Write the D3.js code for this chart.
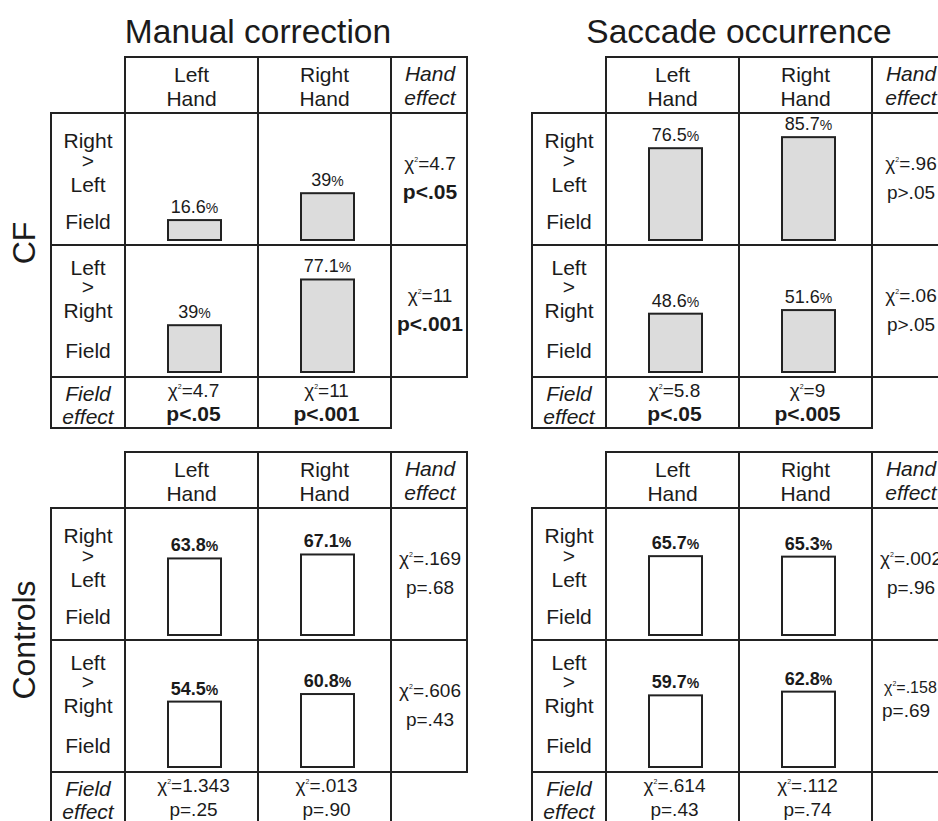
<!DOCTYPE html>
<html>
<head>
<meta charset="utf-8">
<script src="https://cdn.jsdelivr.net/npm/d3@7"></script>
<style>
  body { margin: 0; background: #fff; }
  text { font-family: 'Liberation Sans', Arial, sans-serif; fill: #1b1b1b; }
</style>
</head>
<body>
<div id="chart"></div>
<script>
// --- data ---
const panels = ['Manual correction', 'Saccade occurrence']
const groups = ['CF', 'Controls']
const hands = ['Left Hand', 'Right Hand']
const fieldLabels = [['Right', '>', 'Left', 'Field'], ['Left', '>', 'Right', 'Field']]

// % per [field row][hand]
const manualCF = [[16.6, 39], [39, 77.1]]
const saccadeCF = [[76.5, 85.7], [48.6, 51.6]]
const manualControls = [[63.8, 67.1], [54.5, 60.8]]
const saccadeControls = [[65.7, 65.3], [59.7, 62.8]]

// hand effect per field row: [chi2, p]
const manualCFHand = [['4.7', 'p<.05'], ['11', 'p<.001']]
const saccadeCFHand = [['.96', 'p>.05'], ['.06', 'p>.05']]
const manualControlsHand = [['.169', 'p=.68'], ['.606', 'p=.43']]
const saccadeControlsHand = [['.002', 'p=.96'], ['.158', 'p=.69']]

// field effect per hand: [chi2, p]
const manualCFField = [['4.7', 'p<.05'], ['11', 'p<.001']]
const saccadeCFField = [['5.8', 'p<.05'], ['9', 'p<.005']]
const manualControlsField = [['1.343', 'p=.25'], ['.013', 'p=.90']]
const saccadeControlsField = [['.614', 'p=.43'], ['.112', 'p=.74']]

const tables = [
  { g: 0, p: 0, pct: manualCF, hand: manualCFHand, field: manualCFField },
  { g: 0, p: 1, pct: saccadeCF, hand: saccadeCFHand, field: saccadeCFField },
  { g: 1, p: 0, pct: manualControls, hand: manualControlsHand, field: manualControlsField },
  { g: 1, p: 1, pct: saccadeControls, hand: saccadeControlsHand, field: saccadeControlsField },
]

// --- layout ---
const width = 938, height = 821
const panelX = [51, 532]
const tableTop = [57, 452]
const colEdges = [0, 74, 207, 340, 416]
const rowEdges = [0, 56, 188, 320, 371]
const labelOffsets = [[35, 55, 79, 116], [30, 49, 73, 113]]
const lineColor = '#222'
const fs = 21

const svg = d3.select('#chart')
  .append('svg')
  .attr('width', width)
  .attr('height', height)

const x = d3.scaleBand().domain(hands).range([colEdges[1], colEdges[3]])
const barH = d3.scaleLinear().domain([0, 100]).range([0, 120])
const barW = 53

// titles
svg.selectAll('text.title')
  .data(panels)
  .join('text')
  .attr('class', 'title')
  .attr('x', (d, i) => panelX[i] + colEdges[2])
  .attr('y', 43)
  .attr('text-anchor', 'middle')
  .style('font-size', '33.5px')
  .text(d => d)

// group labels (rotated)
const groupY = [243, 640]
svg.selectAll('text.group')
  .data(groups)
  .join('text')
  .attr('class', 'group')
  .attr('transform', (d, i) => `translate(24, ${groupY[i]}) rotate(-90)`)
  .attr('text-anchor', 'middle')
  .attr('dominant-baseline', 'central')
  .style('font-size', '32px')
  .text(d => d)

function chiText(sel, val, x, y, size, anchor) {
  const t = sel.append('text')
    .attr('x', x).attr('y', y)
    .attr('text-anchor', anchor || 'middle')
    .style('font-size', size + 'px')
  t.append('tspan').text('χ')
  t.append('tspan').attr('dy', -size * 0.42).style('font-size', '7px').text('2')
  t.append('tspan').attr('dy', size * 0.42).text('=' + val)
  return t
}

function pText(sel, val, x, y, size, anchor) {
  const bold = val.startsWith('p<')
  return sel.append('text')
    .attr('x', x).attr('y', y)
    .attr('text-anchor', anchor || 'middle')
    .style('font-size', (bold ? size + 2 : size) + 'px')
    .style('font-weight', bold ? 'bold' : 'normal')
    .text(val)
}

tables.forEach(t => {
  const g = svg.append('g')
    .attr('transform', `translate(${panelX[t.p]}, ${tableTop[t.g]})`)

  // grid lines
  const hl = [
    [colEdges[1], colEdges[4], rowEdges[0]],
    [colEdges[0], colEdges[4], rowEdges[1]],
    [colEdges[0], colEdges[4], rowEdges[2]],
    [colEdges[0], colEdges[4], rowEdges[3]],
    [colEdges[0], colEdges[3], rowEdges[4]],
  ]
  const vl = [
    [colEdges[0], rowEdges[1], rowEdges[4]],
    [colEdges[1], rowEdges[0], rowEdges[4]],
    [colEdges[2], rowEdges[0], rowEdges[4]],
    [colEdges[3], rowEdges[0], rowEdges[4]],
    [colEdges[4], rowEdges[0], rowEdges[3]],
  ]
  g.selectAll('line.h').data(hl).join('line')
    .attr('x1', d => d[0] - 1).attr('x2', d => d[1] + 1)
    .attr('y1', d => d[2]).attr('y2', d => d[2])
    .attr('stroke', lineColor).attr('stroke-width', 2)
  g.selectAll('line.v').data(vl).join('line')
    .attr('x1', d => d[0]).attr('x2', d => d[0])
    .attr('y1', d => d[1] - 1).attr('y2', d => d[2] + 1)
    .attr('stroke', lineColor).attr('stroke-width', 2)

  // header
  hands.forEach(h => {
    const cx = x(h) + x.bandwidth() / 2
    h.split(' ').forEach((w, k) => {
      g.append('text').attr('x', cx).attr('y', 25 + k * 24)
        .attr('text-anchor', 'middle').style('font-size', fs + 'px').text(w)
    })
  })
  ;['Hand', 'effect'].forEach((w, k) => {
    g.append('text').attr('x', (colEdges[3] + colEdges[4]) / 2 + 1).attr('y', 24 + k * 24)
      .attr('text-anchor', 'middle').style('font-size', fs + 'px').style('font-style', 'italic').text(w)
  })

  // body rows
  fieldLabels.forEach((lab, r) => {
    const top = rowEdges[r + 1], bottom = rowEdges[r + 2]
    lab.forEach((w, k) => {
      g.append('text').attr('x', colEdges[1] / 2).attr('y', top + labelOffsets[r][k])
        .attr('text-anchor', 'middle').style('font-size', fs + 'px').text(w)
    })

    // bars
    const rowData = hands.map((h, j) => ({ hand: h, v: t.pct[r][j] }))
    g.selectAll(`rect.bar${r}`)
      .data(rowData)
      .join('rect')
      .attr('class', `bar${r}`)
      .attr('x', d => x(d.hand) + (x.bandwidth() - barW) / 2 + 3)
      .attr('y', d => bottom - 5 - barH(d.v))
      .attr('width', barW)
      .attr('height', d => barH(d.v))
      .attr('fill', t.g === 0 ? '#dcdcdc' : '#fff')
      .attr('stroke', lineColor)
      .attr('stroke-width', 2)

    rowData.forEach(d => {
      const lbl = g.append('text')
        .attr('x', x(d.hand) + x.bandwidth() / 2 + 3)
        .attr('y', bottom - 5 - barH(d.v) - 7)
        .attr('text-anchor', 'middle')
        .style('font-size', '18px')
        .style('font-weight', t.g === 1 ? 'bold' : 'normal')
      lbl.append('tspan').text(d.v)
      lbl.append('tspan').style('font-size', '14px').text('%')
    })

    // hand effect cell
    const [chi, pv] = t.hand[r]
    const hx = (colEdges[3] + colEdges[4]) / 2 + 1
    if (t.g === 1 && t.p === 1 && r === 1) {
      // this one is set smaller and left aligned in the original
      chiText(g, chi, colEdges[3] + 12, top + 53, 16, 'start')
      pText(g, pv, colEdges[3] + 10, top + 77, 19, 'start')
    } else {
      chiText(g, chi, hx, top + 57, 19)
      pText(g, pv, hx, top + 86, 19)
    }
  })

  // field effect row
  const ft = rowEdges[3]
  ;['Field', 'effect'].forEach((w, k) => {
    g.append('text').attr('x', colEdges[1] / 2).attr('y', ft + 24 + k * 23)
      .attr('text-anchor', 'middle').style('font-size', fs + 'px').style('font-style', 'italic').text(w)
  })
  hands.forEach((h, j) => {
    const cx = x(h) + x.bandwidth() / 2 + 2
    chiText(g, t.field[j][0], cx, ft + 20, 19)
    pText(g, t.field[j][1], cx, ft + 44, 19)
  })
})
</script>
</body>
</html>
